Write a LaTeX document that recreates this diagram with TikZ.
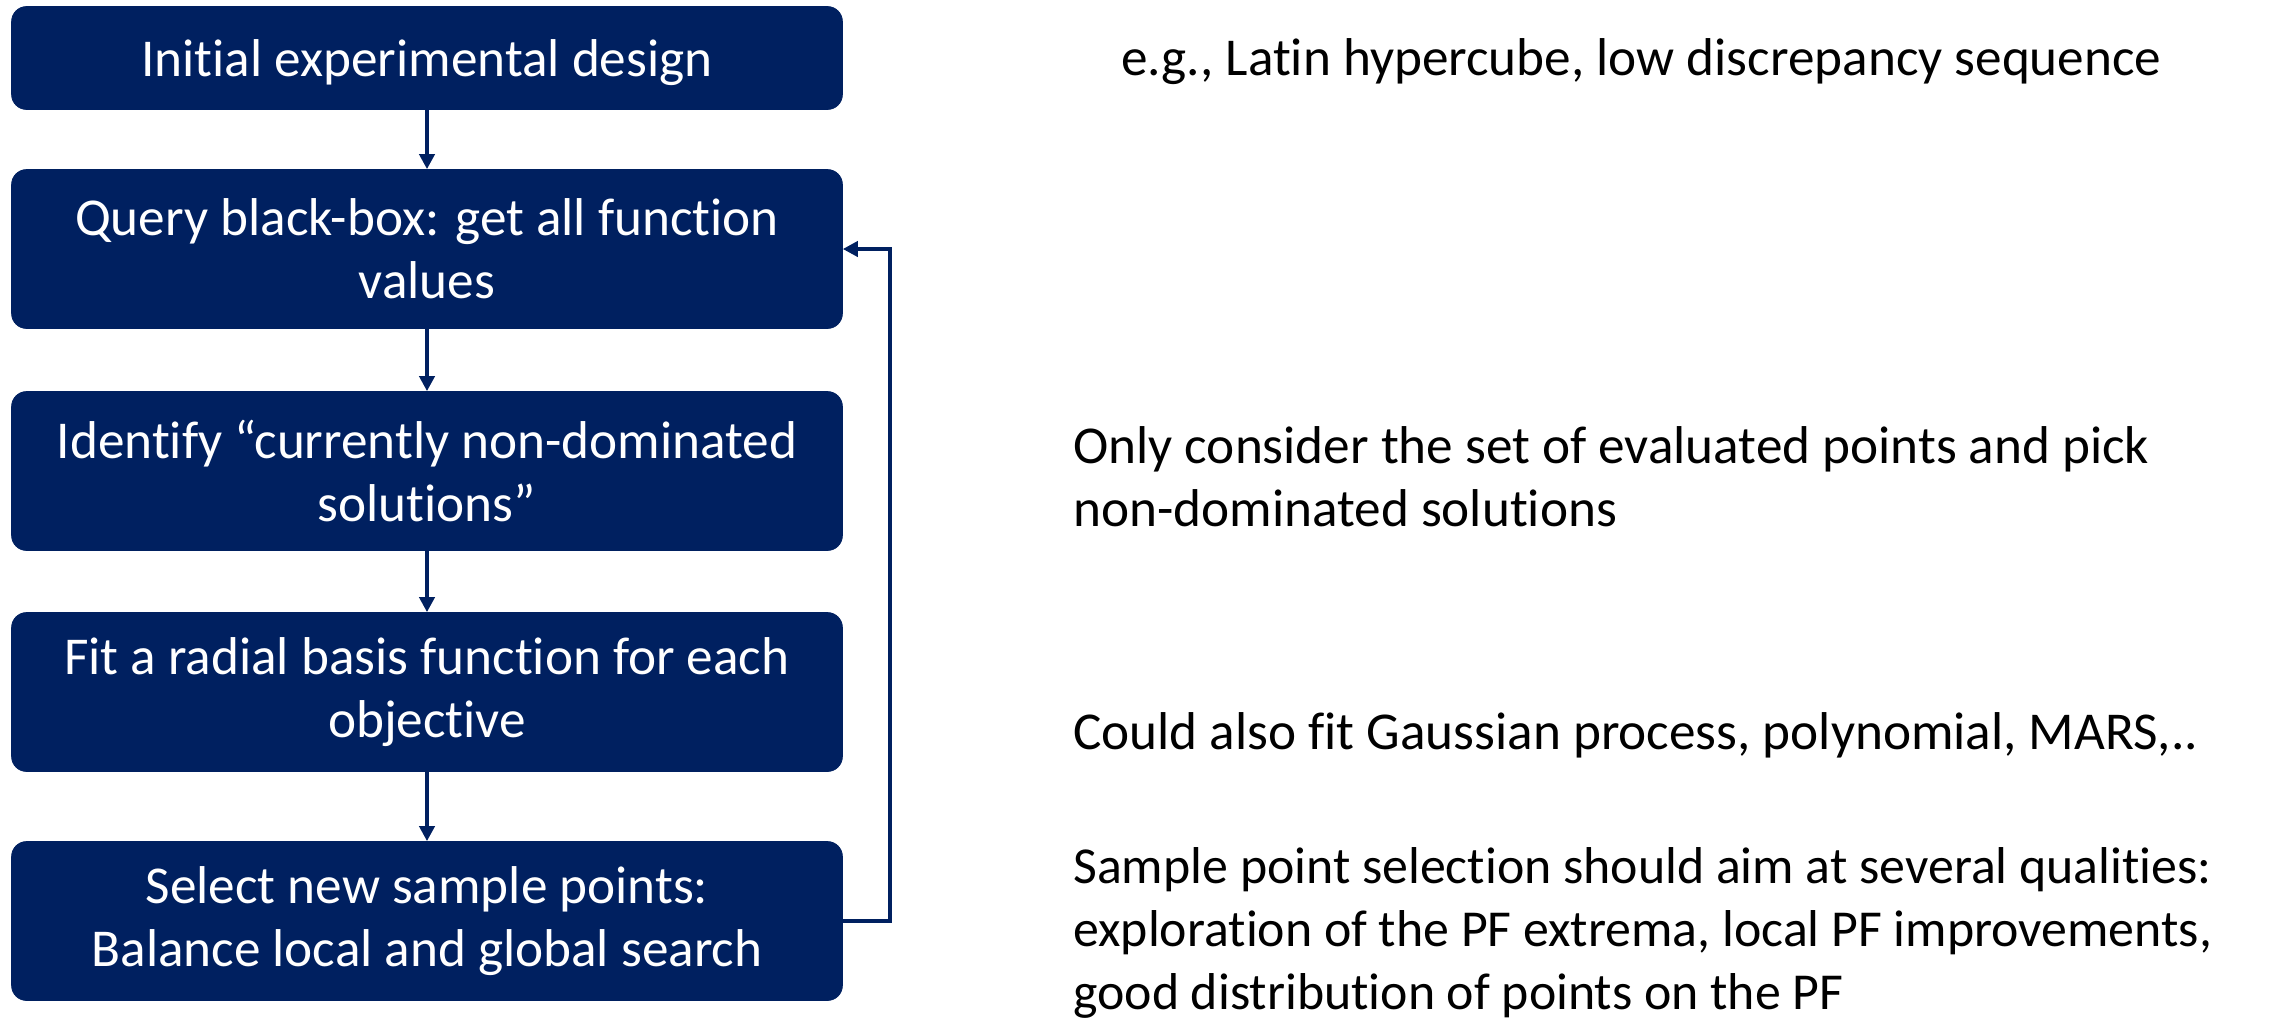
\documentclass[tikz,border=0pt]{standalone}
\usepackage{fontspec}
\setmainfont[Ligatures=NoCommon]{Carlito}
\usetikzlibrary{arrows.meta}
\definecolor{navy}{HTML}{002060}
\begin{document}
\begin{tikzpicture}[x=0.02cm,y=-0.02cm,
						every node/.style={font=\fontsize{30.3}{36}\selectfont}]
						\tikzstyle{stage}=[fill=navy,draw=navy,text=white,rounded corners=0.3cm,minimum width=16.62cm,minimum height=3.18cm,align=center,inner sep=0pt];
						\tikzstyle{note}=[anchor=west,align=left,inner sep=0pt];
						\tikzstyle{flow}=[line width=2.3pt,navy,-{Triangle[length=0.3cm,width=0.3cm]}];
						\useasboundingbox (0,0) rectangle (2274,1019);
						\node[stage,minimum height=2.06cm,text depth=0pt](init) at (427,58) {Initial experimental design};
						\node[stage](query) at (427,249) {Query black-box: get all function\\values};
						\node[stage](ident) at (427,471) {Identify ``currently non-dominated\\solutions''};
						\node[stage](fit) at (427,692) {Fit a radial basis function for each\\objective};
						\node[stage](select) at (427,921) {Select new sample points:\\Balance local and global search};
						\node[note](n1) at (1121,62) {e.g., Latin hypercube, low discrepancy sequence};
						\node[note](n2) at (1073,477) {Only consider the set of evaluated points and pick\\non-dominated solutions};
						\node[note](n3) at (1073,735) {Could also fit Gaussian process, polynomial, MARS,..};
						\node[note,font=\fontsize{29.5}{36}\selectfont](n4) at (1073,933) {Sample point selection should aim at several qualities:\\exploration of the PF extrema, local PF improvements,\\good distribution of points on the PF};
						\coordinate(back) at (890,921);
						\draw[flow] (init) -- (query);
						\draw[flow] (query) -- (ident);
						\draw[flow] (ident) -- (fit);
						\draw[flow] (fit) -- (select);
						\draw[flow] (select.east) -- (back) |- (query.east);
					\end{tikzpicture}
\end{document}
